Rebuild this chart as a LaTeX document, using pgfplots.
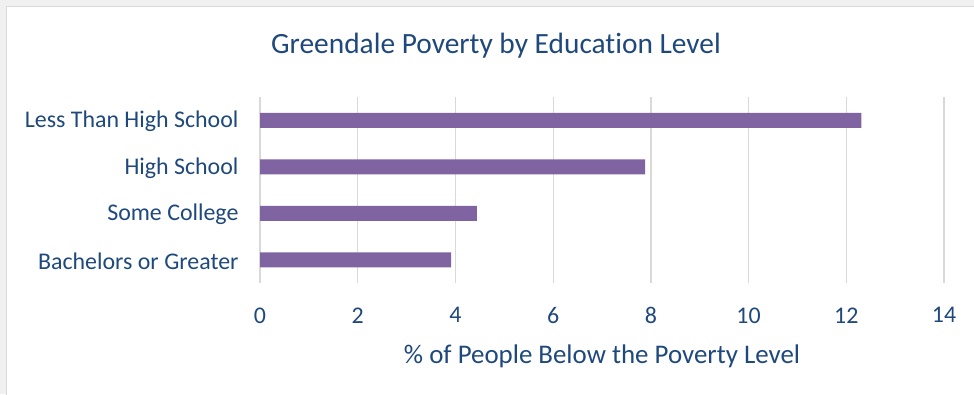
\documentclass[border=0pt]{standalone}
\usepackage{pgfplots}
\pgfplotsset{compat=1.18}
\usepackage{fontspec}
\setmainfont[Ligatures=NoCommon]{Carlito}
\definecolor{txt}{RGB}{31,73,125}
\definecolor{barc}{RGB}{128,100,162}
\definecolor{gridc}{RGB}{217,217,217}
\definecolor{bgc}{RGB}{240,240,240}
\begin{document}
\begin{tikzpicture}[x=1bp,y=1bp]
\useasboundingbox (0,0) rectangle (974,394);
\fill[bgc] (0,0) rectangle (974,394);
\fill[white,draw=gridc,line width=1.5bp] (6.5,-2) rectangle (980,387.5);
\node[txt,font=\fontsize{29.5}{34}\selectfont] at (496,348) {Greendale Poverty by Education Level};
\begin{axis}[
  at={(260bp,111bp)}, anchor=south west,
  scale only axis, width=684bp, height=186bp,
  xbar, bar width=15bp,
  xmin=0, xmax=14, xtick={0,2,...,14},
  ymin=-0.5, ymax=3.5, ytick={0,1,2,3},
  ymajorgrids=false,
  yticklabels={Bachelors or Greater,Some College,High School,Less Than High School},
  axis line style={draw=none},
  major tick length=0pt,
  xmajorgrids, major grid style={draw=gridc,line width=1.3bp},
  tick label style={txt,font=\fontsize{24}{28}\selectfont},
  /pgf/number format/assume math mode=true,
  xticklabel style={yshift=-21bp},
  yticklabel style={xshift=-18bp,yshift=-1.5bp},
  xlabel={\% of People Below the Poverty Level},
  xlabel style={txt,font=\fontsize{27}{32}\selectfont,yshift=-14bp},
]
\addplot[fill=barc,draw=none] coordinates {(3.91,0) (4.44,1) (7.88,2) (12.31,3)};
\end{axis}
\end{tikzpicture}
\end{document}
